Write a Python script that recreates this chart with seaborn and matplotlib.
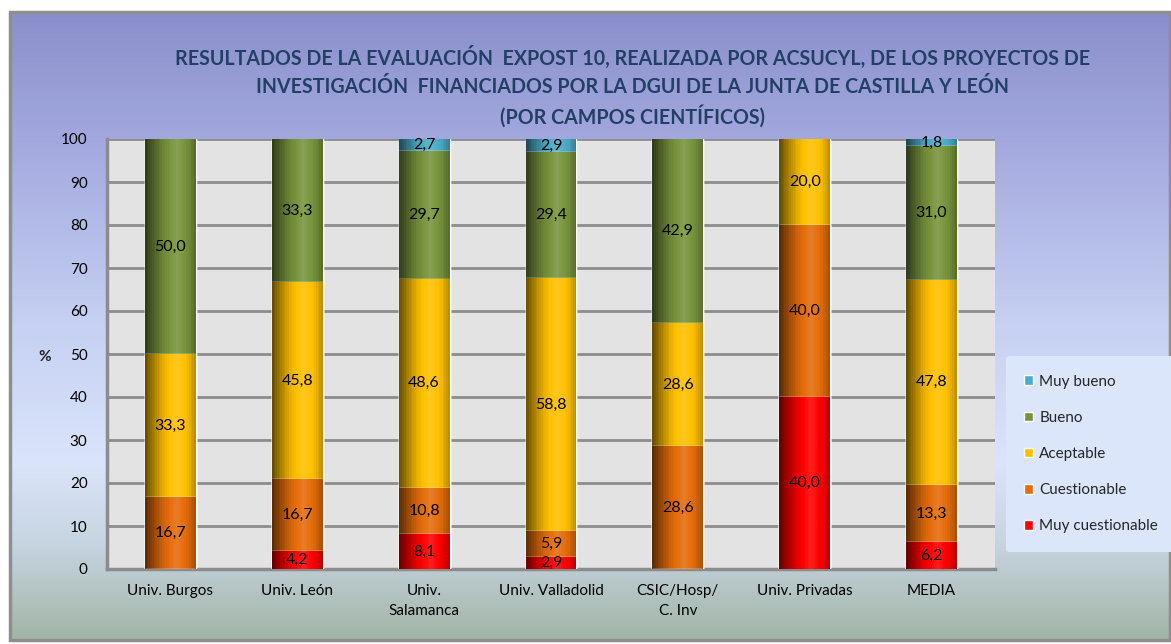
import numpy as np
import pandas as pd
import matplotlib
matplotlib.use("Agg")
import matplotlib.pyplot as plt
import seaborn as sns
from matplotlib.colors import to_rgb
from matplotlib.patches import Rectangle, Patch

categorias = ["Univ. Burgos", "Univ. León", "Univ.\nSalamanca", "Univ. Valladolid",
              "CSIC/Hosp/\nC. Inv", "Univ. Privadas", "MEDIA"]
muy_cuestionable = [0, 4.2, 8.1, 2.9, 0, 40.0, 6.2]
cuestionable = [16.7, 16.7, 10.8, 5.9, 28.6, 40.0, 13.3]
aceptable = [33.3, 45.8, 48.6, 58.8, 28.6, 20.0, 47.8]
bueno = [50.0, 33.3, 29.7, 29.4, 42.9, 0, 31.0]
muy_bueno = [0, 0, 2.7, 2.9, 0, 0, 1.8]

series = ["Muy cuestionable", "Cuestionable", "Aceptable", "Bueno", "Muy bueno"]
colores = ["#FF0000", "#E46C0A", "#FFC000", "#77933C", "#4BACC6"]
yticks = [0, 10, 20, 30, 40, 50, 60, 70, 80, 90, 100]
titulo = ["RESULTADOS DE LA EVALUACIÓN  EXPOST 10, REALIZADA POR ACSUCYL, DE LOS PROYECTOS DE",
          "INVESTIGACIÓN  FINANCIADOS POR LA DGUI DE LA JUNTA DE CASTILLA Y LEÓN",
          "(POR CAMPOS CIENTÍFICOS)"]

df = pd.DataFrame({"campo": categorias,
                   series[0]: muy_cuestionable,
                   series[1]: cuestionable,
                   series[2]: aceptable,
                   series[3]: bueno,
                   series[4]: muy_bueno})
acum = df[series].cumsum(axis=1)

sns.set_style("white")
plt.rcParams["font.family"] = ["Lato", "DejaVu Sans"]


def cilindro(color, n=30):
    # sombreado tipo cilindro: borde izq. oscuro, brillo hacia la derecha
    c = np.array(to_rgb(color))
    t = (np.arange(n) + 0.5) / n
    f = np.interp(t, [0, 0.12, 0.35, 0.62, 0.85, 1], [0.38, 0.58, 0.9, 1.12, 0.95, 0.72])
    out = []
    for v in f:
        if v <= 1:
            out.append(np.clip(c * v, 0, 1))
        else:
            out.append(np.clip(c + (1 - c) * (v - 1), 0, 1))
    return out


fig = plt.figure(figsize=(11.71, 6.44), dpi=100, facecolor="white")

# fondo degradado del gráfico
bg = fig.add_axes([0, 0, 1, 1], zorder=-10)
ys = np.linspace(0, 1, 300)
stops = [(0.0, "#8A8FCB"), (0.2, "#A2A8DE"), (0.5, "#C6D1F3"), (0.72, "#DAE4FA"),
         (0.85, "#C6D4E0"), (1.0, "#A2B4A6")]
grad = np.array([[np.interp(y, [s[0] for s in stops], [to_rgb(s[1])[k] for s in stops])
                  for k in range(3)] for y in ys])[:, None, :]
bg.imshow(grad, extent=[10, 1171, 640, 12], aspect="auto")
bg.add_patch(Rectangle((10, 12), 1160, 628, fill=False, ec="#8E8E8E", lw=2.5))
bg.set_xlim(0, 1171)
bg.set_ylim(644, 0)
bg.axis("off")

ax = fig.add_axes([107 / 1171, 1 - 569 / 644, 888 / 1171, 430 / 644])
ax.set_facecolor("#E3E3E3")

barras = {}
for i in reversed(range(len(series))):
    antes = len(ax.patches)
    sns.barplot(x=df["campo"], y=acum[series[i]], color=colores[i], width=0.4,
                errorbar=None, ax=ax, saturation=1)
    barras[i] = list(ax.patches[antes:])

# sombreado cilíndrico: franjas verticales sobre cada barra, capa por capa
for i, ps in barras.items():
    tonos = cilindro(colores[i])
    n = len(tonos)
    z = 2 + (4 - i) * 2
    for p in ps:
        x0, y0 = p.get_x(), p.get_y()
        w, h = p.get_width(), p.get_height()
        p.set_zorder(z)
        if h <= 0:
            continue
        for k, tono in enumerate(tonos):
            xs = x0 + k * w / n
            ax.add_patch(Rectangle((xs, y0), x0 + w - xs, h, facecolor=tono,
                                   edgecolor="none", lw=0, zorder=z + 0.01 * (k + 1)))

# etiquetas de valores
for i, s in enumerate(series):
    for j, v in enumerate(df[s]):
        if v > 0:
            centro = acum[s].iloc[j] - v / 2
            ax.text(j, centro, f"{v:.1f}".replace(".", ","), ha="center", va="center",
                    fontsize=11.5, color="black", zorder=20)

ax.set_xlim(-0.5, len(categorias) - 0.5)
ax.set_ylim(0, 100)
ax.set_yticks(yticks)
ax.yaxis.grid(True, color="#8C8C8C", lw=2)
ax.set_axisbelow(True)
ax.tick_params(axis="both", length=0, labelsize=11, colors="black")
ax.tick_params(axis="x", pad=11)
ax.tick_params(axis="y", pad=14)
for lbl in ax.get_xticklabels():
    lbl.set_linespacing(1.55)
ax.set_xlabel("")
ax.set_ylabel("")
for lado in ["top", "right"]:
    ax.spines[lado].set_visible(False)
for lado in ["left", "bottom"]:
    ax.spines[lado].set_color("#8C8C8C")
    ax.spines[lado].set_linewidth(2.5)

fig.text(45 / 1171, 1 - 357 / 644, "%", fontsize=11, fontweight="bold", ha="center", va="center")

for linea, ypix in zip(titulo, [57, 87, 116]):
    fig.text(633 / 1171, 1 - ypix / 644, linea, ha="center", va="center", fontsize=14.1,
             fontweight="bold", color="#243F66")

handles = [Patch(facecolor=colores[i], label=series[i]) for i in reversed(range(len(series)))]
leg = fig.legend(handles=handles, loc="center left", bbox_to_anchor=(998 / 1171, 1 - 454 / 644),
                 frameon=True, facecolor="#DCE6FA", edgecolor="none", fontsize=11,
                 handlelength=0.6, handleheight=0.6, handletextpad=0.4, labelspacing=1.45,
                 borderpad=1.2)
leg.get_frame().set_alpha(1)

fig.savefig("out.png", dpi=100)
